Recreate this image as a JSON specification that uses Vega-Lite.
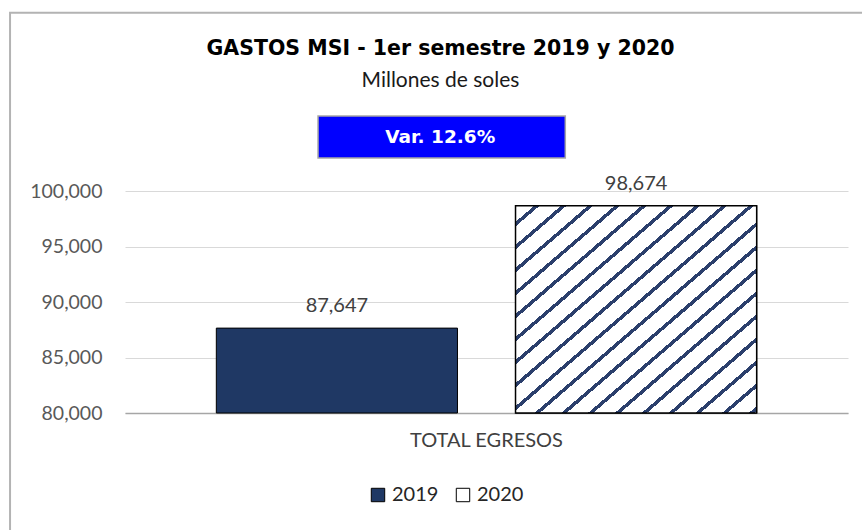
{
  "$schema": "https://vega.github.io/schema/vega-lite/v6.json",
  "width": 723,
  "height": 222,
  "autosize": {"type": "none"},
  "padding": {"left": 125, "top": 191, "right": 14, "bottom": 117},
  "background": "white",
  "title": {
    "text": "GASTOS MSI - 1er semestre 2019 y 2020",
    "subtitle": "Millones de soles",
    "anchor": "middle",
    "frame": "group",
    "dx": -46,
    "offset": -79,
    "font": "DejaVu Sans",
    "fontSize": 20.5,
    "fontWeight": "bold",
    "color": "#000000",
    "subtitleFont": "Lato",
    "subtitleFontSize": 21,
    "subtitleColor": "#1a1a1a",
    "subtitlePadding": 10
  },
  "data": {
    "values": [
      {"cat": "TOTAL EGRESOS", "year": "2019", "value": 87647},
      {"cat": "TOTAL EGRESOS", "year": "2020", "value": 98674}
    ]
  },
  "resolve": {"scale": {"x": "independent"}},
  "layer": [
    {
      "data": {"values": [{"frame": "chart"}]},
      "mark": {"type": "rect", "fill": null, "stroke": "#b3b3b3", "strokeWidth": 2, "clip": false},
      "encoding": {
        "x": {"datum": -0.159, "type": "quantitative", "scale": {"domain": [0, 1], "nice": false, "zero": false}, "axis": null},
        "x2": {"datum": 1.2},
        "y": {"datum": 116050, "type": "quantitative", "axis": {"title": null, "values": [80000, 85000, 90000, 95000, 100000]}},
        "y2": {"datum": 60000}
      }
    },
    {
      "mark": {"type": "bar", "stroke": "#000000", "strokeWidth": 1},
      "encoding": {
        "x": {
          "field": "cat", "type": "nominal",
          "scale": {"paddingInner": 0, "paddingOuter": 0.169},
          "axis": {
            "title": null, "labelAngle": 0, "ticks": false,
            "domain": true, "domainColor": "#a6a6a6", "domainWidth": 1.5,
            "labelFont": "Lato", "labelFontSize": 20, "labelColor": "#404040",
            "labelPadding": 17
          }
        },
        "xOffset": {"field": "year", "type": "nominal", "scale": {"paddingInner": 0.194, "paddingOuter": 0}},
        "y": {
          "field": "value", "type": "quantitative",
          "scale": {"domain": [80000, 100000], "nice": false, "zero": false},
          "axis": {"title": null, "values": [80000, 85000, 90000, 95000, 100000]}
        },
        "y2": {"datum": 80000},
        "color": {
          "field": "year", "type": "nominal",
          "scale": {"range": ["#1f3864", "#ffffff"]},
          "legend": {
            "title": null, "orient": "none", "direction": "horizontal",
            "legendX": 243, "legendY": 294,
            "symbolType": "square", "symbolSize": 180,
            "symbolStrokeColor": "#000000", "symbolStrokeWidth": 1,
            "labelFont": "Lato", "labelFontSize": 20, "labelColor": "#262626",
            "labelOffset": 4, "columnPadding": 14
          }
        }
      }
    },
    {
      "transform": [{"filter": "datum.year == '2020'"}],
      "mark": {
        "type": "bar", "stroke": "#000000", "strokeWidth": 1.5,
        "fill": {
          "gradient": "linear", "x1": 0, "y1": 0, "x2": 1, "y2": 1,
          "stops": [
            {"offset": 0, "color": "#ffffff"},
            {"offset": 0.0389, "color": "#ffffff"}, {"offset": 0.0389, "color": "#2b3f6c"}, {"offset": 0.05, "color": "#2b3f6c"}, {"offset": 0.05, "color": "#ffffff"},
            {"offset": 0.0944, "color": "#ffffff"}, {"offset": 0.0944, "color": "#2b3f6c"}, {"offset": 0.1056, "color": "#2b3f6c"}, {"offset": 0.1056, "color": "#ffffff"},
            {"offset": 0.15, "color": "#ffffff"}, {"offset": 0.15, "color": "#2b3f6c"}, {"offset": 0.1611, "color": "#2b3f6c"}, {"offset": 0.1611, "color": "#ffffff"},
            {"offset": 0.2056, "color": "#ffffff"}, {"offset": 0.2056, "color": "#2b3f6c"}, {"offset": 0.2167, "color": "#2b3f6c"}, {"offset": 0.2167, "color": "#ffffff"},
            {"offset": 0.2611, "color": "#ffffff"}, {"offset": 0.2611, "color": "#2b3f6c"}, {"offset": 0.2722, "color": "#2b3f6c"}, {"offset": 0.2722, "color": "#ffffff"},
            {"offset": 0.3167, "color": "#ffffff"}, {"offset": 0.3167, "color": "#2b3f6c"}, {"offset": 0.3278, "color": "#2b3f6c"}, {"offset": 0.3278, "color": "#ffffff"},
            {"offset": 0.3722, "color": "#ffffff"}, {"offset": 0.3722, "color": "#2b3f6c"}, {"offset": 0.3833, "color": "#2b3f6c"}, {"offset": 0.3833, "color": "#ffffff"},
            {"offset": 0.4278, "color": "#ffffff"}, {"offset": 0.4278, "color": "#2b3f6c"}, {"offset": 0.4389, "color": "#2b3f6c"}, {"offset": 0.4389, "color": "#ffffff"},
            {"offset": 0.4833, "color": "#ffffff"}, {"offset": 0.4833, "color": "#2b3f6c"}, {"offset": 0.4944, "color": "#2b3f6c"}, {"offset": 0.4944, "color": "#ffffff"},
            {"offset": 0.5389, "color": "#ffffff"}, {"offset": 0.5389, "color": "#2b3f6c"}, {"offset": 0.55, "color": "#2b3f6c"}, {"offset": 0.55, "color": "#ffffff"},
            {"offset": 0.5944, "color": "#ffffff"}, {"offset": 0.5944, "color": "#2b3f6c"}, {"offset": 0.6056, "color": "#2b3f6c"}, {"offset": 0.6056, "color": "#ffffff"},
            {"offset": 0.65, "color": "#ffffff"}, {"offset": 0.65, "color": "#2b3f6c"}, {"offset": 0.6611, "color": "#2b3f6c"}, {"offset": 0.6611, "color": "#ffffff"},
            {"offset": 0.7056, "color": "#ffffff"}, {"offset": 0.7056, "color": "#2b3f6c"}, {"offset": 0.7167, "color": "#2b3f6c"}, {"offset": 0.7167, "color": "#ffffff"},
            {"offset": 0.7611, "color": "#ffffff"}, {"offset": 0.7611, "color": "#2b3f6c"}, {"offset": 0.7722, "color": "#2b3f6c"}, {"offset": 0.7722, "color": "#ffffff"},
            {"offset": 0.8167, "color": "#ffffff"}, {"offset": 0.8167, "color": "#2b3f6c"}, {"offset": 0.8278, "color": "#2b3f6c"}, {"offset": 0.8278, "color": "#ffffff"},
            {"offset": 0.8722, "color": "#ffffff"}, {"offset": 0.8722, "color": "#2b3f6c"}, {"offset": 0.8833, "color": "#2b3f6c"}, {"offset": 0.8833, "color": "#ffffff"},
            {"offset": 0.9278, "color": "#ffffff"}, {"offset": 0.9278, "color": "#2b3f6c"}, {"offset": 0.9389, "color": "#2b3f6c"}, {"offset": 0.9389, "color": "#ffffff"},
            {"offset": 0.9833, "color": "#ffffff"}, {"offset": 0.9833, "color": "#2b3f6c"}, {"offset": 0.9944, "color": "#2b3f6c"}, {"offset": 0.9944, "color": "#ffffff"},
            {"offset": 1, "color": "#ffffff"}
          ]
        }
      },
      "encoding": {
        "x": {"field": "cat", "type": "nominal", "scale": {"paddingInner": 0, "paddingOuter": 0.169}, "axis": null},
        "xOffset": {"field": "year", "type": "nominal"},
        "y": {"field": "value", "type": "quantitative", "axis": {"title": null, "values": [80000, 85000, 90000, 95000, 100000]}},
        "y2": {"datum": 80000}
      }
    },
    {
      "mark": {"type": "text", "baseline": "alphabetic", "dy": -16, "font": "Lato", "fontSize": 20, "color": "#404040"},
      "encoding": {
        "x": {"field": "cat", "type": "nominal", "scale": {"paddingInner": 0, "paddingOuter": 0.169}, "axis": null},
        "xOffset": {"field": "year", "type": "nominal"},
        "y": {"field": "value", "type": "quantitative", "axis": {"title": null, "values": [80000, 85000, 90000, 95000, 100000]}},
        "text": {"field": "value", "type": "quantitative", "format": ","}
      }
    },
    {
      "data": {"values": [{"label": "Var. 12.6%"}]},
      "layer": [
        {
          "mark": {"type": "rect", "fill": "#0000ff", "stroke": "#a6a6a6", "strokeWidth": 1.5, "clip": false},
          "encoding": {
            "x": {"datum": 0.267, "type": "quantitative", "scale": {"domain": [0, 1], "nice": false, "zero": false}, "axis": null},
            "x2": {"datum": 0.609},
            "y": {"datum": 102973, "type": "quantitative", "axis": {"title": null, "values": [80000, 85000, 90000, 95000, 100000]}},
            "y2": {"datum": 106757}
          }
        },
        {
          "mark": {"type": "text", "font": "DejaVu Sans", "fontSize": 18.5, "fontWeight": "bold", "color": "#ffffff", "baseline": "middle", "align": "center"},
          "encoding": {
            "x": {"datum": 0.436, "type": "quantitative", "scale": {"domain": [0, 1], "nice": false, "zero": false}, "axis": null},
            "y": {"datum": 104865, "type": "quantitative", "axis": {"title": null, "values": [80000, 85000, 90000, 95000, 100000]}},
            "text": {"field": "label", "type": "nominal"}
          }
        }
      ]
    }
  ],
  "config": {
    "view": {"stroke": null},
    "axisY": {
      "domain": false, "ticks": false, "grid": true, "gridColor": "#d9d9d9", "gridWidth": 1,
      "labelFont": "Lato", "labelFontSize": 19.5, "labelColor": "#595959", "labelPadding": 23,
      "labelExpr": "format(datum.value, ',')"
    }
  }
}
